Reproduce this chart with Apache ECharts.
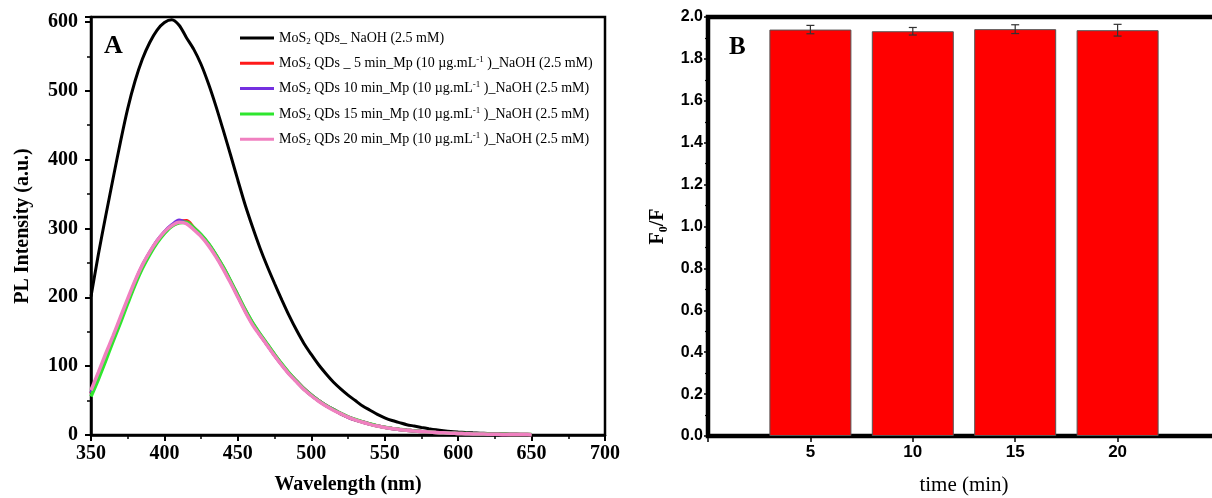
<!DOCTYPE html>
<html>
<head>
<meta charset="utf-8">
<script src="https://cdn.jsdelivr.net/npm/echarts@6/dist/echarts.min.js"></script>
<style>html,body{margin:0;padding:0;background:#fff}#c{width:1212px;height:498px}</style>
</head>
<body>
<div id="c"></div>
<script>
// ---------- Panel A data ----------
const wavelengths = [350,355,360,365,370,375,380,385,390,395,400,405,410,415,420,425,430,435,440,445,450,455,460,465,470,475,480,485,490,495,500,505,510,515,520,525,530,535,540,545,550,555,560,565,570,575,580,585,590,595,600,605,610,615,620,625,630,635,640,645,650];
const plNaOH = [201,262,318,372,425,474,514,546,570,588,599,603,595,577,560,538,510,478,443,407,370,334,302,272,245,220,196,173,152,133,117,102,89,77,67,58,50,42,36,30,25,21,18,15,13,11,9.2,7.6,6.3,5.2,4.4,3.7,3.1,2.6,2.2,1.8,1.5,1.2,1.0,0.8,0.6];
const pl5min = [60,86,113,140,167,194,221,245,264,281,294,304,309,311,301,290,277,261,243,223,202,181,162,146,131,116,102,89,78,67,58,50,43,37,31,26,22,18.8,15.8,13.2,11.1,9.5,8.1,6.9,5.9,5,4.3,3.7,3.1,2.6,2.2,1.9,1.6,1.4,1.2,1.0,0.9,0.8,0.7,0.6,0.5];
const pl10min = [61,87,114,141,168,195,222,246,265,282,295,305,312,308,300,290,277,261,243,223,202,181,162,146,131,116,102,89,78,67,58,50,43,37,31,26,22,18.8,15.8,13.2,11.1,9.5,8.1,6.9,5.9,5,4.3,3.7,3.1,2.6,2.2,1.9,1.6,1.4,1.2,1.0,0.9,0.8,0.7,0.6,0.5];
const pl15min = [56,81,108,136,163,191,218,242,262,279,293,303,308,309,301,291,278,262,244,224,203,182,163,147,132,117,103,90,78,67,58,50,43,37,31.5,26.5,22.5,19,16,13.3,11.2,9.6,8.2,7,6,5.1,4.4,3.7,3.2,2.7,2.3,2,1.7,1.5,1.3,1.1,1.0,0.9,0.8,0.7,0.6];
const pl20min = [65,91,118,144,171,198,224,247,266,282,295,304,309,307,298,288,275,259,241,221,200,179,160,145,130,115,101,88,77,66,57,49,42,36,31,26,22,18.5,15.5,13,11,9.4,8,6.8,5.8,5,4.3,3.6,3.1,2.6,2.2,1.9,1.6,1.4,1.2,1.0,0.9,0.8,0.7,0.6,0.5];
const seriesNamesA = [
  'MoS2 QDs_ NaOH (2.5 mM)',
  'MoS2 QDs _ 5 min_Mp (10 µg.mL-1 )_NaOH (2.5 mM)',
  'MoS2 QDs 10 min_Mp (10 µg.mL-1 )_NaOH (2.5 mM)',
  'MoS2 QDs 15 min_Mp (10 µg.mL-1 )_NaOH (2.5 mM)',
  'MoS2 QDs 20 min_Mp (10 µg.mL-1 )_NaOH (2.5 mM)'
];
const legendRich = [
  '{t|MoS}{sub|2}{t| QDs_ NaOH (2.5 mM)}',
  '{t|MoS}{sub|2}{t| QDs _ 5 min_Mp (10 µg.mL}{sup|-1}{t| )_NaOH (2.5 mM)}',
  '{t|MoS}{sub|2}{t| QDs 10 min_Mp (10 µg.mL}{sup|-1}{t| )_NaOH (2.5 mM)}',
  '{t|MoS}{sub|2}{t| QDs 15 min_Mp (10 µg.mL}{sup|-1}{t| )_NaOH (2.5 mM)}',
  '{t|MoS}{sub|2}{t| QDs 20 min_Mp (10 µg.mL}{sup|-1}{t| )_NaOH (2.5 mM)}'
];
const seriesA = [plNaOH, pl5min, pl10min, pl15min, pl20min];
const colorsA = ['#000000', '#ff1a1a', '#7430e0', '#2ee62e', '#f080c0'];

// ---------- Panel B data ----------
const times = [5, 10, 15, 20];
const ratioF0F = [1.940, 1.932, 1.942, 1.937];
const ratioErr = [0.020, 0.018, 0.021, 0.028];

const serif = 'Liberation Serif';
const sans = 'Liberation Sans';

const chart = echarts.init(document.getElementById('c'), null, {renderer: 'canvas'});

const lineSeries = seriesA.map((vals, i) => ({
  type: 'line',
  name: seriesNamesA[i],
  xAxisIndex: 0, yAxisIndex: 0,
  data: wavelengths.map((w, k) => [w, vals[k]]),
  showSymbol: false,
  smooth: 0.3,
  lineStyle: {color: colorsA[i], width: i === 0 ? 3 : 3.5},
  itemStyle: {color: colorsA[i]},
  z: 2 + i
}));

const option = {
  animation: false,
  backgroundColor: '#fff',
  title: [
    {text: 'A', left: 104, top: 33, padding: 0, textStyle: {fontFamily: serif, fontWeight: 'bold', fontSize: 26, color: '#000'}},
    {text: 'B', left: 729, top: 35, padding: 0, textStyle: {fontFamily: serif, fontWeight: 'bold', fontSize: 25, color: '#000'}}
  ],
  legend: {
    data: seriesNamesA,
    orient: 'vertical',
    left: 235, top: 26,
    itemWidth: 34, itemHeight: 3, itemGap: 9.3,
    icon: 'rect',
    formatter: name => legendRich[seriesNamesA.indexOf(name)],
    textStyle: {
      fontFamily: serif, fontSize: 14, color: '#000',
      rich: {
        t: {fontFamily: serif, fontSize: 14, color: '#000', lineHeight: 16},
        sub: {fontFamily: serif, fontSize: 9, color: '#000', verticalAlign: 'bottom', lineHeight: 16},
        sup: {fontFamily: serif, fontSize: 9, color: '#000', verticalAlign: 'top', lineHeight: 16}
      }
    }
  },
  grid: [
    {left: 91, top: 17, width: 514, height: 418, show: true, borderColor: '#000', borderWidth: 2.5, outerBoundsMode: 'none', containLabel: false},
    {left: 708, top: 17, width: 512, height: 419, show: true, borderColor: '#000', borderWidth: 4.5, outerBoundsMode: 'none', containLabel: false}
  ],
  xAxis: [
    {
      type: 'value', gridIndex: 0, min: 350, max: 700, interval: 50,
      axisLine: {show: true, lineStyle: {color: '#000', width: 2.5}},
      axisTick: {show: true, length: 6, lineStyle: {color: '#000', width: 2}},
      minorTick: {show: true, splitNumber: 2, length: 4, lineStyle: {color: '#000', width: 1.5}},
      splitLine: {show: false},
      axisLabel: {fontFamily: serif, fontWeight: 'bold', fontSize: 20, color: '#000', margin: 9},
      name: 'Wavelength (nm)', nameLocation: 'middle', nameGap: 40,
      nameTextStyle: {fontFamily: serif, fontWeight: 'bold', fontSize: 20, color: '#000'}
    },
    {
      type: 'value', gridIndex: 1, min: 0, max: 25, interval: 5,
      axisLine: {show: true, lineStyle: {color: '#000', width: 4}},
      axisTick: {show: false},
      splitLine: {show: false},
      axisLabel: {fontFamily: sans, fontWeight: 'bold', fontSize: 17, color: '#000', margin: 8,
        formatter: v => (v > 0 && v < 25) ? String(v) : ''},
      name: 'time (min)', nameLocation: 'middle', nameGap: 39,
      nameTextStyle: {fontFamily: serif, fontSize: 21, color: '#000'}
    },
    {
      type: 'value', gridIndex: 1, min: -2.5, max: 22.5, interval: 5, position: 'bottom',
      axisLine: {show: false},
      axisTick: {show: true, length: 6, lineStyle: {color: '#000', width: 1.5}},
      axisLabel: {show: false},
      splitLine: {show: false}
    }
  ],
  yAxis: [
    {
      type: 'value', gridIndex: 0, min: 0, max: 607, interval: 100,
      axisLine: {show: true, lineStyle: {color: '#000', width: 2.5}},
      axisTick: {show: true, length: 6, lineStyle: {color: '#000', width: 2}},
      minorTick: {show: true, splitNumber: 2, length: 4, lineStyle: {color: '#000', width: 1.5}},
      splitLine: {show: false},
      axisLabel: {fontFamily: serif, fontWeight: 'bold', fontSize: 20, color: '#000', margin: 13, showMaxLabel: false,
        formatter: v => (v % 100 === 0) ? String(v) : ''},
      name: 'PL Intensity (a.u.)', nameLocation: 'middle', nameGap: 58, nameRotate: 90,
      nameTextStyle: {fontFamily: serif, fontWeight: 'bold', fontSize: 20, color: '#000'}
    },
    {
      type: 'value', gridIndex: 1, min: 0, max: 2, interval: 0.2,
      axisLine: {show: true, lineStyle: {color: '#000', width: 4}},
      axisTick: {show: true, length: 4, lineStyle: {color: '#000', width: 1.5}},
      minorTick: {show: true, splitNumber: 2, length: 3, lineStyle: {color: '#000', width: 1.2}},
      splitLine: {show: false},
      axisLabel: {fontFamily: sans, fontWeight: 'bold', fontSize: 16, color: '#000', margin: 5,
        formatter: v => v.toFixed(1)},
      name: '{b|F}{s|0}{b|/F}', nameLocation: 'middle', nameGap: 38, nameRotate: 90,
      nameTextStyle: {
        fontFamily: serif, fontWeight: 'bold', fontSize: 20, color: '#000',
        rich: {
          b: {fontFamily: serif, fontWeight: 'bold', fontSize: 20, color: '#000', lineHeight: 24},
          s: {fontFamily: serif, fontWeight: 'bold', fontSize: 12, color: '#000', verticalAlign: 'bottom', lineHeight: 24}
        }
      }
    }
  ],
  series: lineSeries.concat([
    {
      type: 'bar', name: 'F0/F',
      xAxisIndex: 1, yAxisIndex: 1,
      data: times.map((t, i) => [t, ratioF0F[i]]),
      barWidth: 82,
      itemStyle: {color: '#ff0000', borderColor: '#555', borderWidth: 1},
      z: 2
    },
    {
      type: 'custom', name: 'err',
      xAxisIndex: 1, yAxisIndex: 1,
      data: times.map((t, i) => [t, ratioF0F[i] - ratioErr[i], ratioF0F[i] + ratioErr[i]]),
      encode: {x: 0, y: [1, 2]},
      renderItem: (params, api) => {
        const x = api.value(0);
        const lo = api.coord([x, api.value(1)]);
        const hi = api.coord([x, api.value(2)]);
        const hw = 4;
        const st = {stroke: '#333', lineWidth: 1.2};
        return {
          type: 'group',
          children: [
            {type: 'line', shape: {x1: hi[0], y1: hi[1], x2: lo[0], y2: lo[1]}, style: st},
            {type: 'line', shape: {x1: hi[0] - hw, y1: hi[1], x2: hi[0] + hw, y2: hi[1]}, style: st},
            {type: 'line', shape: {x1: lo[0] - hw, y1: lo[1], x2: lo[0] + hw, y2: lo[1]}, style: st}
          ]
        };
      },
      z: 5
    }
  ])
};
chart.setOption(option);
</script>
</body>
</html>
